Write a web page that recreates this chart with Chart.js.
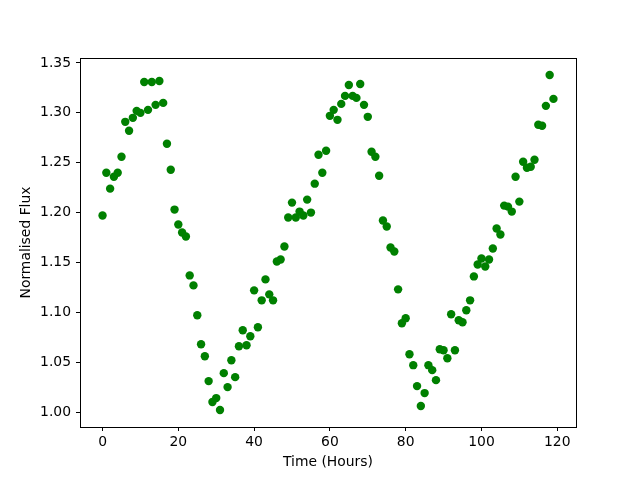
<!DOCTYPE html>
<html>
<head>
<meta charset="utf-8">
<script src="https://cdn.jsdelivr.net/npm/chart.js@4"></script>
<style>
  body { margin: 0; background: #fff; }
</style>
</head>
<body>
<canvas id="fluxChart" width="640" height="480"></canvas>
<script>
// Light curve data
const hours = [];
for (let h = 0; h < 120; h++) hours.push(h);

const flux = [
  1.197, 1.240, 1.224, 1.236, 1.240, 1.256, 1.291, 1.282, 1.295, 1.302,
  1.300, 1.331, 1.303, 1.331, 1.308, 1.332, 1.310, 1.269, 1.243, 1.203,
  1.188, 1.180, 1.176, 1.137, 1.127, 1.097, 1.068, 1.056, 1.031, 1.010,
  1.014, 1.002, 1.039, 1.025, 1.052, 1.035, 1.066, 1.082, 1.067, 1.076,
  1.122, 1.085, 1.112, 1.133, 1.118, 1.112, 1.151, 1.153, 1.166, 1.195,
  1.210, 1.195, 1.201, 1.197, 1.213, 1.200, 1.229, 1.258, 1.240, 1.262,
  1.297, 1.303, 1.293, 1.309, 1.317, 1.328, 1.317, 1.315, 1.329, 1.308,
  1.296, 1.261, 1.256, 1.237, 1.192, 1.186, 1.165, 1.161, 1.123, 1.089,
  1.094, 1.058, 1.047, 1.026, 1.006, 1.019, 1.047, 1.042, 1.032, 1.063,
  1.062, 1.054, 1.098, 1.062, 1.092, 1.090, 1.102, 1.112, 1.136, 1.148,
  1.154, 1.146, 1.153, 1.164, 1.184, 1.178, 1.207, 1.206, 1.201, 1.236,
  1.211, 1.251, 1.245, 1.246, 1.253, 1.288, 1.287, 1.307, 1.338, 1.314
];

const xTicks = [0, 20, 40, 60, 80, 100, 120];
const yTicks = [1.00, 1.05, 1.10, 1.15, 1.20, 1.25, 1.30, 1.35];

const points = hours.map((h, i) => ({ x: h, y: flux[i] }));

// frame on all four sides, like matplotlib spines
const framePlugin = {
  id: 'frame',
  afterDraw(chart) {
    const { ctx, chartArea } = chart;
    ctx.save();
    ctx.strokeStyle = '#000';
    ctx.lineWidth = 1;
    ctx.strokeRect(chartArea.left + 0.5, chartArea.top + 0.5,
      chartArea.right - chartArea.left, chartArea.bottom - chartArea.top);
    ctx.restore();
  }
};

const tickFont = { family: 'DejaVu Sans', size: 13.9 };

var ctx = document.getElementById('fluxChart').getContext('2d');
new Chart(ctx, {
  type: 'scatter',
  data: {
    datasets: [{
      data: points,
      backgroundColor: '#008000',
      borderWidth: 0,
      pointRadius: 4.2,
      pointHoverRadius: 4.2
    }]
  },
  options: {
    responsive: false,
    animation: false,
    events: [],
    layout: { padding: { left: 0, right: 64, top: 58, bottom: 0 } },
    plugins: { legend: { display: false }, tooltip: { enabled: false } },
    scales: {
      x: {
        type: 'linear',
        min: -5.95,
        max: 124.95,
        afterBuildTicks: (axis) => { axis.ticks = xTicks.map(v => ({ value: v })); },
        afterFit: (axis) => { axis.height = 53; },
        grid: { drawOnChartArea: false, drawTicks: true, tickLength: 4, color: '#000' },
        border: { display: false },
        ticks: { color: '#000', font: tickFont, padding: 3, maxRotation: 0 },
        title: {
          display: true,
          text: 'Time (Hours)',
          color: '#000',
          font: tickFont,
          padding: { top: 4, bottom: 9 }
        }
      },
      y: {
        type: 'linear',
        min: 0.985,
        max: 1.355,
        afterBuildTicks: (axis) => { axis.ticks = yTicks.map(v => ({ value: v })); },
        afterFit: (axis) => { axis.width = 80; },
        grid: { drawOnChartArea: false, drawTicks: true, tickLength: 4, color: '#000' },
        border: { display: false },
        ticks: {
          color: '#000',
          font: tickFont,
          padding: 5,
          callback: (v) => Number(v).toFixed(2)
        },
        title: {
          display: true,
          text: 'Normalised Flux',
          color: '#000',
          font: tickFont,
          padding: { top: 18, bottom: 4 }
        }
      }
    }
  },
  plugins: [framePlugin]
});
</script>
</body>
</html>
